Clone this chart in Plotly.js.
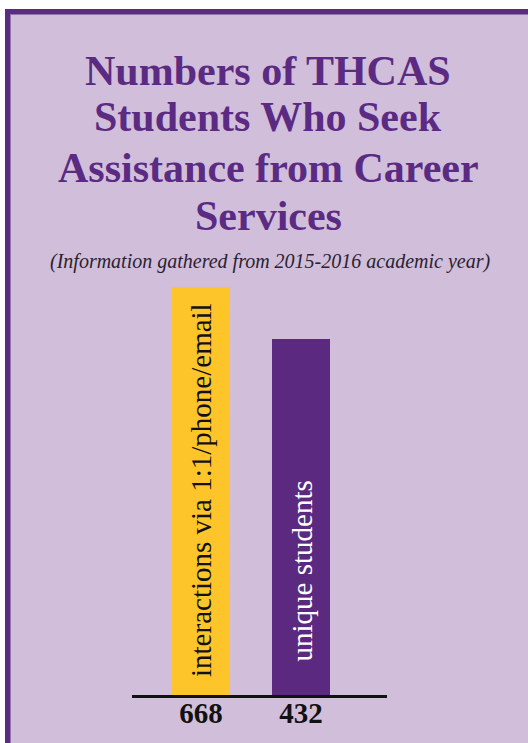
<!DOCTYPE html>
<html>
<head>
<meta charset="utf-8">
<script src="https://cdn.plot.ly/plotly-3.0.1.min.js"></script>
<style>
  html, body { margin: 0; padding: 0; background: #ffffff; width: 528px; height: 743px; overflow: hidden; }
  #frame { position: absolute; left: 5px; top: 9px; width: 700px; height: 900px;
           background: #d1bedb; border-top: 5px solid #5b2a82; border-left: 5px solid #5b2a82;
           box-shadow: inset 1px 1px 0 #9277ad; }
  #chart { position: absolute; left: 0; top: 0; width: 528px; height: 743px; }
</style>
</head>
<body>
<div id="frame"></div>
<div id="chart"></div>
<script>
// ---- data ----
const categories = ["interactions via 1:1/phone/email", "unique students"];
const values = [668, 432];
const barColors = ["#fec52a", "#5b2a80"];
const labelColors = ["#111111", "#ffffff"];
const titleLines = ["Numbers of THCAS", "Students Who Seek", "Assistance from Career", "Services"];
const subtitle = "(Information gathered from 2015-2016 academic year)";

// ---- layout helpers ----
const W = 528, H = 743;
const mL = 132, mR = 141, mT = 250, mB = 48;
const plotH = H - mT - mB;
const plotW = W - mL - mR;
const py = ypx => (H - mB - ypx) / plotH;   // page pixel -> paper y
const px = xpx => (xpx - mL) / plotW;        // page pixel -> paper x

const titleCenters = [71.5, 117, 167.5, 215.5];
const annotations = titleLines.map((t, i) => ({
  text: "<b>" + t + "</b>", xref: "paper", yref: "paper",
  x: px(268), y: py(titleCenters[i]), xanchor: "center", yanchor: "middle",
  showarrow: false,
  font: { family: "Liberation Serif, serif", size: 42, color: "#5b2a82" }
}));
annotations.push({
  text: "<i>" + subtitle + "</i>", xref: "paper", yref: "paper",
  x: px(270), y: py(261.5), xanchor: "center", yanchor: "middle", showarrow: false,
  font: { family: "Liberation Serif, serif", size: 20, color: "#2a2230" }
});

// in-bar labels (rotated), bottom of text set a little above the baseline
const labelBottoms = [679, 664];
categories.forEach((c, i) => {
  annotations.push({
    text: c, xref: "x", yref: "paper", x: c, y: py(labelBottoms[i]),
    xanchor: "center", yanchor: "bottom", textangle: -90, showarrow: false,
    font: { family: "Liberation Serif, serif", size: 29, color: labelColors[i] }
  });
});

const trace = {
  type: "bar",
  x: categories,
  y: values,
  width: 0.58,
  marker: { color: barColors, line: { width: 0 } },
  hoverinfo: "none"
};

const layout = {
  width: W, height: H,
  margin: { l: mL, r: mR, t: mT, b: mB, pad: 0 },
  paper_bgcolor: "rgba(0,0,0,0)",
  plot_bgcolor: "rgba(0,0,0,0)",
  showlegend: false,
  xaxis: {
    type: "category",
    range: [-0.69, 1.86],
    tickmode: "array",
    tickvals: categories,
    ticktext: values.map(v => "<b>" + v + "</b>"),
    tickfont: { family: "Liberation Serif, serif", size: 29, color: "#111111" },
    ticklabelstandoff: -9,
    showline: true, linecolor: "#111111", linewidth: 2.5,
    showgrid: false, zeroline: false, ticks: "", fixedrange: true
  },
  yaxis: {
    type: "log",
    range: [1.3396, 1.3396 + plotH / 274.7],
    visible: false, showgrid: false, zeroline: false, fixedrange: true
  },
  annotations: annotations
};

Plotly.newPlot("chart", [trace], layout, { staticPlot: true, displayModeBar: false });
</script>
</body>
</html>
